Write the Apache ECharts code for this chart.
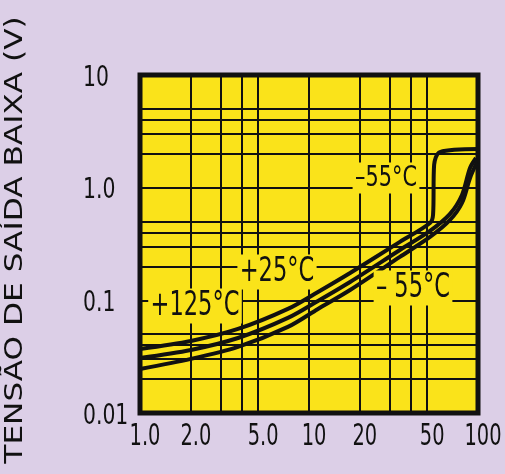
<!DOCTYPE html>
<html><head><meta charset="utf-8">
<script src="https://cdn.jsdelivr.net/npm/echarts@6/dist/echarts.min.js"></script>
<style>html,body{margin:0;padding:0;background:#DCCFE7;} #c{width:505px;height:474px;}</style>
</head><body><div id="c"></div>
<script>
// tick labels
const xTicks = [1, 2, 5, 10, 20, 50, 100];
const xTickLabels = ['1.0', '2.0', '5.0', '10', '20', '50', '100'];
const yTicks = [0.01, 0.1, 1, 10];
const yTickLabels = ['0.01', '0.1', '1.0', '10'];
// grid lines of the original chart paper
const xGridLines = [2, 3, 4, 5, 10, 20, 30, 40, 50];
const yGridLines = [0.02, 0.03, 0.04, 0.05, 0.1, 0.2, 0.3, 0.4, 0.5, 1, 2, 3, 4, 5];
// curves (x: current, y: low output voltage V)
const curveAX = [1, 2, 3.8, 7.5, 11.3, 17.5, 34.5, 52, 54.2, 55, 59.5, 100];
const curveAY = [0.037, 0.0436, 0.0557, 0.0839, 0.1187, 0.175, 0.33, 0.486, 0.573, 1.59, 2.07, 2.2];
const curveBX = [1, 2, 3.8, 7.5, 11.3, 17.5, 34.5, 52, 68.3, 80.4, 89.7, 97.3];
const curveBY = [0.0308, 0.0363, 0.0463, 0.0698, 0.0988, 0.1456, 0.28, 0.413, 0.585, 0.861, 1.496, 1.834];
const curveCX = [1, 2, 3.8, 7.5, 11.3, 17.5, 34.5, 52, 68.3, 80.4, 89.7, 98.6];
const curveCY = [0.0246, 0.0302, 0.0386, 0.0581, 0.0839, 0.1236, 0.2427, 0.365, 0.517, 0.731, 1.219, 1.69];
const curveNames = ['-55°C', '+25°C', '+125°C'];

const YELLOW = '#FAE31A';
const BLACK = '#111';
const NARROW = "'Liberation Sans Narrow', 'DejaVu Sans Condensed', sans-serif";

function pairs(xs, ys) { return xs.map((x, i) => [x, ys[i]]); }
function curve(name, xs, ys, withGrid) {
  const s = {
    name: name, type: 'line', data: pairs(xs, ys), symbol: 'none',
    smooth: 0.3, z: 3, silent: true,
    lineStyle: { color: BLACK, width: 4 }
  };
  if (withGrid) {
    s.markLine = {
      silent: true, z: 1, symbol: ['none', 'none'], animation: false,
      label: { show: false },
      lineStyle: { color: BLACK, width: 2, type: 'solid' },
      emphasis: { disabled: true },
      data: xGridLines.map(v => ({ xAxis: v })).concat(yGridLines.map(v => ({ yAxis: v })))
    };
  }
  return s;
}
function textEl(text, x, y, size, sx, align, bg) {
  const st = {
    text: text, fontSize: size, fontFamily: NARROW, fill: BLACK,
    align: align, verticalAlign: 'middle'
  };
  if (bg) { st.backgroundColor = YELLOW; st.padding = [1, 3]; }
  return { type: 'text', x: x, y: y, scaleX: sx, z: 100, style: st };
}

const chart = echarts.init(document.getElementById('c'));
chart.setOption({
  animation: false,
  backgroundColor: '#DCCFE7',
  grid: { left: 140, right: 27, top: 75, bottom: 61, show: true,
          backgroundColor: YELLOW, borderColor: BLACK, borderWidth: 5 },
  xAxis: {
    type: 'log', logBase: 10, min: 1, max: 100,
    axisLine: { show: false }, axisTick: { show: false },
    splitLine: { show: false }, minorSplitLine: { show: false },
    axisLabel: { show: false }
  },
  yAxis: {
    type: 'log', logBase: 10, min: 0.01, max: 10,
    axisLine: { show: false }, axisTick: { show: false },
    splitLine: { show: false },
    axisLabel: { show: false }
  },
  series: [
    curve(curveNames[0], curveAX, curveAY, true),
    curve(curveNames[1], curveBX, curveBY, false),
    curve(curveNames[2], curveCX, curveCY, false)
  ]
});

// tick labels placed through the axes' own scales
const yBottom = chart.convertToPixel({ yAxisIndex: 0 }, yTicks[0]);
const xLeft = chart.convertToPixel({ xAxisIndex: 0 }, xTicks[0]);
const graphics = [];
xTicks.forEach((v, i) => {
  const px = chart.convertToPixel({ xAxisIndex: 0 }, v);
  graphics.push(textEl(xTickLabels[i], px + 5, yBottom + 24, 30, 0.72, 'center', false));
});
yTicks.forEach((v, i) => {
  const py = chart.convertToPixel({ yAxisIndex: 0 }, v);
  graphics.push(textEl(yTickLabels[i], xLeft - 57, py + 3, 29, 0.78, 'left', false));
});
graphics.push({ type: 'text', x: 16, y: 240, rotation: Math.PI / 2, scaleX: 1.3, z: 100,
  style: { text: 'TENSÃO DE SAÍDA BAIXA (V)', fontSize: 24,
           fontFamily: "'DejaVu Sans', sans-serif", fill: BLACK,
           align: 'center', verticalAlign: 'middle' } });
graphics.push(textEl('+125°C', 195, 306, 33, 0.76, 'center', true));
graphics.push(textEl('+25°C', 277, 272, 33, 0.76, 'center', true));
graphics.push(textEl('– 55°C', 413, 288, 33, 0.76, 'center', true));
graphics.push(textEl('–55°C', 386, 178, 29, 0.8, 'center', true));
chart.setOption({ graphic: graphics });
</script>
</body></html>
